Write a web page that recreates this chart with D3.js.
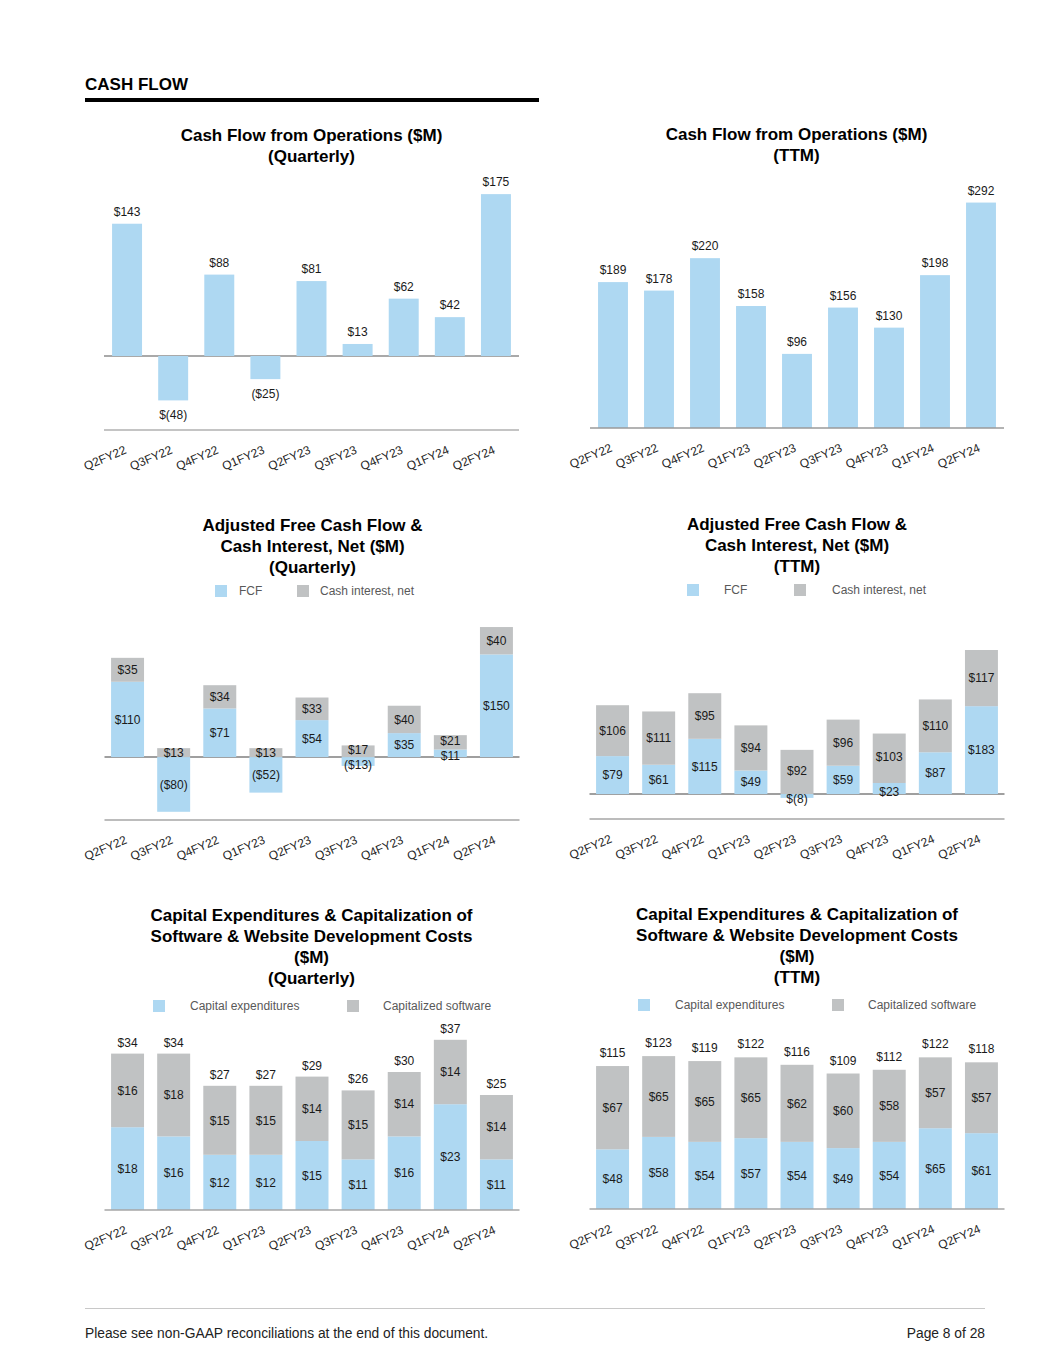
<!DOCTYPE html>
<html>
<head>
<meta charset="utf-8">
<title>Cash Flow</title>
<script src="https://d3js.org/d3.v7.min.js"></script>
<style>
  body { margin: 0; background: #fff; }
  svg { font-family: "Liberation Sans", Arial, sans-serif; }
  .title { font-size: 17px; font-weight: bold; fill: #000; text-anchor: middle; }
  .val { font-size: 12px; fill: #1a1a1a; text-anchor: middle; }
  .tick { font-size: 12px; fill: #262626; text-anchor: end; }
  .legend { font-size: 12px; fill: #595959; }
</style>
</head>
<body>
<div id="page"></div>
<script>
const quarters = ["Q2FY22", "Q3FY22", "Q4FY22", "Q1FY23", "Q2FY23", "Q3FY23", "Q4FY23", "Q1FY24", "Q2FY24"];

// cash flow from operations
const cfoQuarterly = [143, -48, 88, -25, 81, 13, 62, 42, 175];
const cfoQuarterlyLabels = ["$143", "$(48)", "$88", "($25)", "$81", "$13", "$62", "$42", "$175"];
const cfoTTM = [189, 178, 220, 158, 96, 156, 130, 198, 292];

// adjusted FCF + cash interest
const fcfQuarterly = [110, -80, 71, -52, 54, -13, 35, 11, 150];
const interestQuarterly = [35, 13, 34, 13, 33, 17, 40, 21, 40];
const fcfTTM = [79, 61, 115, 49, -8, 59, 23, 87, 183];
const interestTTM = [106, 111, 95, 94, 92, 96, 103, 110, 117];

// capex + capitalized software
const capexQuarterly = [18, 16, 12, 12, 15, 11, 16, 23, 11];
const softwareQuarterly = [16, 18, 15, 15, 14, 15, 14, 14, 14];
const capexTTM = [48, 58, 54, 57, 54, 49, 54, 65, 61];
const softwareTTM = [67, 65, 65, 65, 62, 60, 58, 57, 57];

const BLUE = "#aed8f2", GREY = "#c0c2c3";

const svg = d3.select("#page").append("svg")
  .attr("width", 1055).attr("height", 1365);

// page header
svg.append("text").attr("x", 85).attr("y", 90)
  .style("font-size", "17px").style("font-weight", "bold").text("CASH FLOW");
svg.append("rect").attr("x", 85).attr("y", 98).attr("width", 454).attr("height", 4).attr("fill", "#000");

// footer
svg.append("line").attr("x1", 85).attr("x2", 985).attr("y1", 1308.5).attr("y2", 1308.5)
  .attr("stroke", "#c8c8c8").attr("stroke-width", 1);
svg.append("text").attr("x", 85).attr("y", 1338)
  .style("font-size", "13.8px")
  .attr("fill", "#222").text("Please see non-GAAP reconciliations at the end of this document.");
svg.append("text").attr("x", 985).attr("y", 1338).attr("text-anchor", "end")
  .style("font-size", "13.8px")
  .attr("fill", "#222").text("Page 8 of 28");

const fmt = v => "$" + v;
const fmtNeg = v => v < 0 ? "$(" + (-v) + ")" : "$" + v;
const fmtParen = v => v < 0 ? "($" + (-v) + ")" : "$" + v;

function title(cx, y0, lines) {
  lines.forEach((t, i) => svg.append("text").attr("class", "title")
    .attr("x", cx).attr("y", y0 + i * 21).text(t));
}

function legend(items) {
  items.forEach(d => {
    svg.append("rect").attr("x", d.x).attr("y", d.y - 6).attr("width", 12).attr("height", 12).attr("fill", d.color);
    svg.append("text").attr("class", "legend").attr("x", d.tx).attr("y", d.y + 4).text(d.label);
  });
}

function xTicks(g, x, axisY) {
  g.selectAll("text.tick").data(quarters).join("text")
    .attr("class", "tick")
    .attr("transform", d => `translate(${x(d) + x.bandwidth() / 2},${axisY + 23}) rotate(-23)`)
    .text(d => d);
}

function hline(g, x0, x1, y, color) {
  g.append("line").attr("x1", x0).attr("x2", x1).attr("y1", y).attr("y2", y)
    .attr("stroke", color).attr("stroke-width", 1.5);
}

// simple bar chart (may contain negatives)
function simpleChart(opt) {
  const g = svg.append("g");
  const x = d3.scaleBand().domain(quarters).range(opt.xr)
    .paddingInner(0.35).paddingOuter(0.175);
  const y = d3.scaleLinear().domain(opt.yd).range(opt.yr);
  const data = quarters.map((q, i) => ({ q, v: opt.values[i], label: opt.labels[i] }));
  if (opt.yd[0] < 0) hline(g, opt.xr[0], opt.xr[1], y(0), "#8c8c8c");
  g.selectAll("rect").data(data).join("rect")
    .attr("x", d => x(d.q)).attr("width", x.bandwidth())
    .attr("y", d => y(Math.max(0, d.v)))
    .attr("height", d => Math.abs(y(d.v) - y(0)))
    .attr("fill", BLUE);
  hline(g, opt.xr[0], opt.xr[1], opt.yr[0], opt.yd[0] < 0 ? "#b0b0b0" : "#9a9a9a");
  g.selectAll("text.val").data(data).join("text")
    .attr("class", "val")
    .attr("x", d => x(d.q) + x.bandwidth() / 2)
    .attr("y", d => d.v >= 0 ? y(d.v) - 8 : y(d.v) + 19)
    .text(d => d.label);
  xTicks(g, x, opt.yr[0]);
}

// stacked chart: blue from 0 to a, grey on top from max(0,a) by b
function stackedChart(opt) {
  const g = svg.append("g");
  const x = d3.scaleBand().domain(quarters).range(opt.xr)
    .paddingInner(0.285).paddingOuter(0.1425);
  const y = d3.scaleLinear().domain(opt.yd).range(opt.yr);
  const data = quarters.map((q, i) => ({ q, a: opt.a[i], b: opt.b[i] }));
  if (opt.yd[0] < 0) hline(g, opt.xr[0], opt.xr[1], y(0), "#7f7f7f");
  g.selectAll("rect.a").data(data).join("rect").attr("class", "a")
    .attr("x", d => x(d.q)).attr("width", x.bandwidth())
    .attr("y", d => y(Math.max(0, d.a)))
    .attr("height", d => Math.abs(y(d.a) - y(0)))
    .attr("fill", BLUE);
  g.selectAll("rect.b").data(data).join("rect").attr("class", "b")
    .attr("x", d => x(d.q)).attr("width", x.bandwidth())
    .attr("y", d => y(Math.max(0, d.a) + d.b))
    .attr("height", d => y(Math.max(0, d.a)) - y(Math.max(0, d.a) + d.b))
    .attr("fill", GREY);
  hline(g, opt.xr[0], opt.xr[1], opt.yr[0], "#a6a6a6");
  const cx = d => x(d.q) + x.bandwidth() / 2;
  // thin segments: nudge the two labels apart a little
  const thin = d => Math.abs(y(d.a) - y(0)) < 14;
  g.selectAll("text.va").data(data).join("text").attr("class", "val va")
    .attr("x", cx).attr("y", d => y(d.a / 2) + (thin(d) ? 3 : 0)).attr("dy", "0.35em")
    .text(d => opt.fa(d.a));
  g.selectAll("text.vb").data(data).join("text").attr("class", "val vb")
    .attr("x", cx).attr("y", d => y(Math.max(0, d.a) + d.b / 2) - (thin(d) ? 1.5 : 0)).attr("dy", "0.35em")
    .text(d => fmt(d.b));
  if (opt.total) {
    g.selectAll("text.vt").data(data).join("text").attr("class", "val vt")
      .attr("x", cx).attr("y", d => y(d.a + d.b) - opt.totalGap)
      .text(d => fmt(d.a + d.b));
  }
  xTicks(g, x, opt.yr[0]);
}

// row 1
title(311.5, 141, ["Cash Flow from Operations ($M)", "(Quarterly)"]);
simpleChart({ xr: [104, 519], yd: [-80, 180], yr: [430, 189.5], values: cfoQuarterly, labels: cfoQuarterlyLabels });

title(796.5, 140, ["Cash Flow from Operations ($M)", "(TTM)"]);
simpleChart({ xr: [590, 1004], yd: [0, 300], yr: [428, 196.4], values: cfoTTM, labels: cfoTTM.map(fmt) });

// row 2
title(312.5, 531, ["Adjusted Free Cash Flow &", "Cash Interest, Net ($M)", "(Quarterly)"]);
legend([
  { x: 215, y: 591, tx: 239, color: BLUE, label: "FCF" },
  { x: 297, y: 591, tx: 320, color: GREY, label: "Cash interest, net" }
]);
stackedChart({ xr: [104.5, 519.5], yd: [-92, 200], yr: [820, 620.2], a: fcfQuarterly, b: interestQuarterly, fa: fmtParen });

title(797, 530, ["Adjusted Free Cash Flow &", "Cash Interest, Net ($M)", "(TTM)"]);
legend([
  { x: 687, y: 590, tx: 724, color: BLUE, label: "FCF" },
  { x: 794, y: 590, tx: 832, color: GREY, label: "Cash interest, net" }
]);
stackedChart({ xr: [589.5, 1004.5], yd: [-52, 320], yr: [819, 640.4], a: fcfTTM, b: interestTTM, fa: fmtNeg });

// row 3
title(311.5, 921, ["Capital Expenditures & Capitalization of", "Software & Website Development Costs", "($M)", "(Quarterly)"]);
legend([
  { x: 153, y: 1006, tx: 190, color: BLUE, label: "Capital expenditures" },
  { x: 347, y: 1006, tx: 383, color: GREY, label: "Capitalized software" }
]);
stackedChart({ xr: [104.5, 519.5], yd: [0, 40], yr: [1210, 1026], a: capexQuarterly, b: softwareQuarterly, fa: fmt, total: true, totalGap: 7 });

title(797, 920, ["Capital Expenditures & Capitalization of", "Software & Website Development Costs", "($M)", "(TTM)"]);
legend([
  { x: 638, y: 1005, tx: 675, color: BLUE, label: "Capital expenditures" },
  { x: 832, y: 1005, tx: 868, color: GREY, label: "Capitalized software" }
]);
stackedChart({ xr: [589.5, 1004.5], yd: [0, 130], yr: [1209, 1047.4], a: capexTTM, b: softwareTTM, fa: fmt, total: true, totalGap: 9 });
</script>
</body>
</html>
